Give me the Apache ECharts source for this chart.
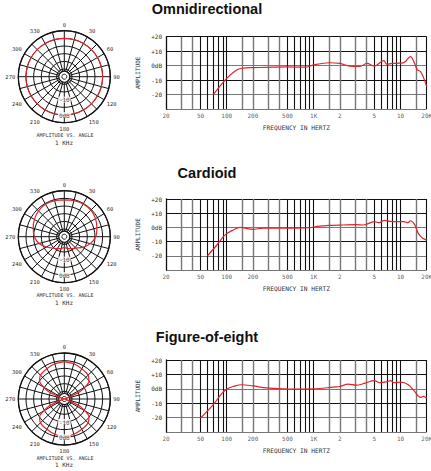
<!DOCTYPE html>
<html><head><meta charset="utf-8">
<script src="https://cdn.jsdelivr.net/npm/echarts@6/dist/echarts.min.js"></script>
<style>html,body{margin:0;padding:0;background:#fff}#c{width:431px;height:471px}</style>
</head><body><div id="c"></div>
<script>
// ---- data ----
const titles = ['Omnidirectional', 'Cardioid', 'Figure-of-eight'];
const freqTickValues = [20, 50, 100, 200, 500, 1000, 2000, 5000, 10000, 20000];
const freqTickLabels = ['20', '50', '100', '200', '500', '1K', '2', '5', '10', '20K'];
const gridDarkHz = [50, 60, 70, 80, 90, 100, 500, 600, 700, 800, 900, 1000, 5000, 6000, 7000, 8000, 9000, 10000, 20000];
const gridGrayHz = [30, 40, 150, 200, 300, 400, 1500, 2000, 3000, 4000, 15000];
const ampLabels = {'-30': '', '-20': '-20', '-10': '-10', '0': '0dB', '10': '+10', '20': '+20'};

const omniHz = [70, 100, 130, 150, 200, 500, 800, 1000, 1500, 2000, 2600, 3400, 4100, 5000, 6400, 7000, 8000, 9000, 10900, 13000, 14500, 15600, 17000, 18200, 20000];
const omniDb = [-20, -8.8, -3, -1.8, -1.4, -0.9, -1.1, 0.5, 2, 1.5, -0.3, -0.6, 1.6, -0.3, 3.5, 0.9, 1.5, 1.6, 2.1, 6.2, 1.6, -3, -4.1, -7.6, -14.5];

const cardHz = [60, 77, 95, 119, 142, 200, 263, 500, 900, 1100, 1500, 2200, 3100, 3700, 5000, 5700, 6500, 7500, 9000, 10900, 12200, 13000, 14500, 16000, 18000, 20000];
const cardDb = [-20, -12.4, -5.4, -1.8, 0, -1.4, -0.5, -0.5, -0.2, 0.7, 1.4, 1.7, 1.9, 1.7, 4, 3.3, 5, 4.2, 4, 4, 3.3, 4.7, 2.1, -4.2, -7.7, -8.9];

const eightHz = [50, 70, 87, 100, 119, 150, 200, 290, 500, 1000, 1700, 2000, 2500, 3100, 3900, 5000, 5700, 6900, 7700, 8400, 10000, 12300, 14500, 17000, 18400, 20000];
const eightDb = [-20.3, -11, -3.5, -0.2, 1.6, 2.8, 2, 0.6, -0.2, 0, 1.2, 1.6, 3.2, 2.5, 3.9, 5.7, 4.3, 4.8, 5.7, 4.3, 4.6, 2.8, -1.8, -6, -5.3, -6.5];

const polarAngles = [0, 15, 30, 45, 60, 75, 90, 105, 120, 135, 150, 165, 180, 195, 210, 225, 240, 255, 270, 285, 300, 315, 330, 345, 360];
const omniPolarDb = [0, 0, 0, 0, 0, 0, 0, 0, 0, 0, 0, 0, 0, 0, 0, 0, 0, 0, 0, 0, 0, 0, 0, 0, 0];
const cardPolarDb = [-1, -0.6, -0.3, -0.4, -1.5, -3, -4.5, -7.5, -11, -14.5, -16, -17, -18, -17, -16, -14.5, -11.5, -8, -5.5, -4, -2.5, -1.2, -0.5, -0.7, -1];
const eightAngles = [0, 15, 30, 45, 55, 60, 65, 70, 80, 90, 100, 110, 115, 120, 125, 135, 150, 165, 180,
  195, 210, 225, 235, 240, 245, 250, 260, 270, 280, 290, 295, 300, 305, 315, 330, 345, 360];
const eightPolarDb = [-0.6, -1.2, -2.2, -3, -5.4, -9.3, -13.6, -21, -24.5, -25, -24.5, -21, -13.6, -9.3, -5.4, -3, -2.2, -1.2, -0.5,
  -1.2, -2.2, -3, -5.4, -9.3, -13.6, -21, -24.5, -25, -24.5, -21, -13.6, -9.3, -5.4, -3, -2.2, -1.2, -0.6];
const ringLabelDb = [-10, 0];
const ringLabels = ['-10', '0dB'];

// ---- layout ----
const rows = [
  {title: 9, polarY: 76.7, gridTop: 36.7, gridH: 72.3},
  {title: 172.5, polarY: 236.7, gridTop: 199, gridH: 71},
  {title: 336.5, polarY: 399, gridTop: 360, gridH: 72}
];
const polarX = 64.3, polarR = 46;
const mono = '"DejaVu Sans Mono", "Liberation Mono", monospace';
const RED = '#e3232b';
const freqSets = [[omniHz, omniDb], [cardHz, cardDb], [eightHz, eightDb]];
const polarSets = [[polarAngles, omniPolarDb], [polarAngles, cardPolarDb], [eightAngles, eightPolarDb]];

const option = {
  animation: false,
  backgroundColor: '#fff',
  grid: [], xAxis: [], yAxis: [], polar: [], angleAxis: [], radiusAxis: [], series: [], graphic: []
};

rows.forEach((r, i) => {
  option.grid.push({left: 166, top: r.gridTop, width: 260.7, height: r.gridH});
  option.xAxis.push({
    gridIndex: i, type: 'log', logBase: 10, min: 20, max: 20000,
    axisLine: {show: false}, axisTick: {show: false}, axisLabel: {show: false}, splitLine: {show: false},
    name: 'FREQUENCY IN HERTZ', nameLocation: 'middle', nameGap: 15,
    nameTextStyle: {fontFamily: mono, fontSize: 6.2, color: '#333'}
  });
  option.yAxis.push({
    gridIndex: i, type: 'value', min: -30, max: 20, interval: 10,
    axisLine: {show: true, lineStyle: {color: '#111', width: 1.3}},
    axisTick: {show: false},
    axisLabel: {formatter: v => ampLabels[String(v)], fontFamily: mono, fontSize: 6, color: '#333', margin: 4},
    splitLine: {show: true, lineStyle: {color: ['#777', '#777', '#111', '#777', '#111', '#111'], width: 1.2}},
    name: 'AMPLITUDE', nameLocation: 'middle', nameRotate: 90, nameGap: 18,
    nameTextStyle: {fontFamily: mono, fontSize: 6, color: '#333'}
  });
  option.series.push({
    type: 'line', xAxisIndex: i, yAxisIndex: i, data: [[20, -30]], showSymbol: false,
    lineStyle: {opacity: 0}, silent: true, z: 1,
    markLine: {
      silent: true, symbol: 'none', label: {show: false},
      data: gridDarkHz.map(v => ({xAxis: v, lineStyle: {color: '#111', width: 1.1, type: 'solid'}}))
        .concat(gridGrayHz.map(v => ({xAxis: v, lineStyle: {color: '#777', width: 1.4, type: 'solid'}})))
    }
  });
  option.series.push({
    type: 'scatter', xAxisIndex: i, yAxisIndex: i, symbolSize: 1, itemStyle: {color: 'rgba(0,0,0,0)'},
    data: freqTickValues.map(v => [v, -30]), silent: true,
    label: {show: true, position: 'bottom', distance: 3, formatter: p => freqTickLabels[p.dataIndex],
      fontFamily: mono, fontSize: 6, color: '#333'}
  });
  const [hz, db] = freqSets[i];
  option.series.push({
    type: 'line', xAxisIndex: i, yAxisIndex: i, data: hz.map((h, k) => [h, db[k]]),
    showSymbol: false, smooth: 0.35, lineStyle: {color: RED, width: 1.2}, z: 5
  });

  option.polar.push({center: [polarX, r.polarY], radius: polarR});
  option.angleAxis.push({
    polarIndex: i, type: 'value', min: 0, max: 360, interval: 15, startAngle: 90, clockwise: true,
    axisLine: {lineStyle: {color: '#111', width: 1.3}}, axisTick: {show: false},
    axisLabel: {formatter: v => (v % 30 === 0 && v < 360) ? String(v) : '', fontFamily: mono, fontSize: 5.5, color: '#333', margin: 3},
    splitLine: {show: true, lineStyle: {color: '#111', width: 1}}
  });
  option.radiusAxis.push({
    polarIndex: i, type: 'value', min: -25, max: 5, interval: 5,
    axisLine: {show: false}, axisTick: {show: false}, axisLabel: {show: false},
    splitLine: {show: true, lineStyle: {color: '#111', width: 1}}
  });
  const [ang, pdb] = polarSets[i];
  option.series.push({
    type: 'line', coordinateSystem: 'polar', polarIndex: i,
    data: ang.map((a, k) => [pdb[k], a]), showSymbol: false, smooth: i === 2 ? 0.2 : 0.3,
    lineStyle: {color: RED, width: 1.2}, z: 5
  });
  option.series.push({
    type: 'scatter', coordinateSystem: 'polar', polarIndex: i, symbolSize: 1, itemStyle: {color: 'rgba(0,0,0,0)'},
    data: ringLabelDb.map(d => [d, 180]), silent: true, z: 6,
    label: {show: true, position: 'inside', formatter: p => ringLabels[p.dataIndex],
      fontFamily: mono, fontSize: 6, color: '#222', backgroundColor: '#fff', padding: [0, 1]}
  });

  option.graphic.push(
    {type: 'circle', z: 1, shape: {cx: polarX, cy: r.polarY, r: 5.5}, style: {fill: '#fff', stroke: '#111', lineWidth: 1.1}},
    {type: 'circle', z: 1, shape: {cx: polarX, cy: r.polarY, r: 2.5}, style: {fill: '#fff', stroke: '#111', lineWidth: 0.9}},
    {type: 'text', x: 207, y: r.title, style: {text: titles[i], textAlign: 'center', textVerticalAlign: 'middle',
      font: 'bold 14.5px "Liberation Sans", Arial, sans-serif', fill: '#111'}},
    {type: 'text', x: 65, y: r.polarY + 58.5, style: {text: 'AMPLITUDE VS. ANGLE', textAlign: 'center', textVerticalAlign: 'middle',
      font: '5px ' + mono, fill: '#333'}},
    {type: 'text', x: 64, y: r.polarY + 65.5, style: {text: '1 KHz', textAlign: 'center', textVerticalAlign: 'middle',
      font: '6px ' + mono, fill: '#333'}}
  );
});

const chart = echarts.init(document.getElementById('c'), null, {renderer: 'svg'});
chart.setOption(option);
</script>
</body></html>
